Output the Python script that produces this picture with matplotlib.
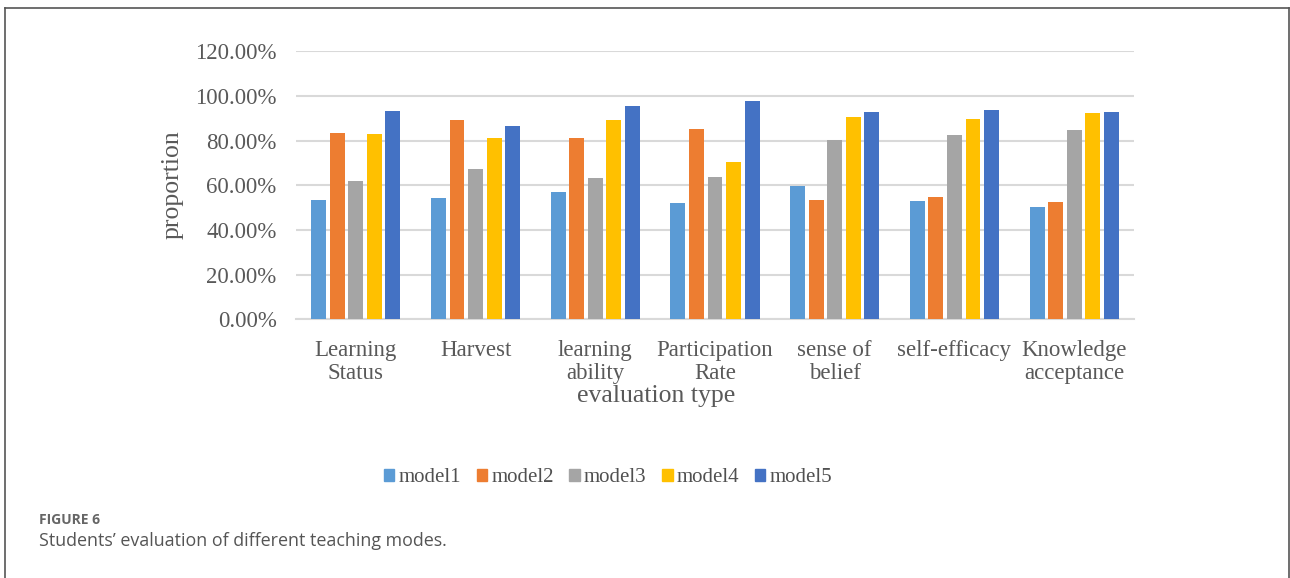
import numpy as np
import matplotlib
matplotlib.use('Agg')
import matplotlib.pyplot as plt
from matplotlib.patches import Patch
from matplotlib.lines import Line2D

categories = ['Learning\nStatus', 'Harvest', 'learning\nability', 'Participation\nRate',
              'sense of\nbelief', 'self-efficacy', 'Knowledge\nacceptance']
models = ['model1', 'model2', 'model3', 'model4', 'model5']
model1 = [53.5, 54.5, 56.9, 51.9, 59.7, 52.8, 50.4]
model2 = [83.6, 89.1, 81.2, 85.2, 53.4, 54.8, 52.4]
model3 = [62.1, 67.3, 63.3, 63.6, 80.3, 82.4, 84.6]
model4 = [83.0, 81.3, 89.1, 70.3, 90.4, 89.7, 92.5]
model5 = [93.4, 86.4, 95.5, 97.6, 92.7, 93.7, 92.8]
series = [model1, model2, model3, model4, model5]
colors = ['#5B9BD5', '#ED7D31', '#A5A5A5', '#FFC000', '#4472C4']

W, H = 1290, 578
fig = plt.figure(figsize=(W / 100, H / 100), dpi=100)
ax = fig.add_axes([296 / W, 1 - 319.3 / H, (1134 - 296) / W, (319.3 - 51.3) / H])

serif = 'Liberation Serif'
tc = '#595959'

x = np.arange(len(categories))
step = 0.155
for j, vals in enumerate(series):
    ax.bar(x + (j - 2) * step, np.array(vals) / 100, width=0.125, color=colors[j], zorder=3)

ax.set_xlim(-0.5, len(categories) - 0.5)
ax.set_ylim(0, 1.2)
ax.set_yticks(np.arange(0, 1.21, 0.2))
ax.set_yticklabels(['%.2f%%' % (v * 100) for v in np.arange(0, 1.21, 0.2)],
                   fontfamily=serif, fontsize=16.5, color=tc)
ax.set_xticks(x)
ax.set_xticklabels(categories, fontfamily=serif, fontsize=16.5, color=tc, linespacing=1.12)
ax.tick_params(axis='both', length=0)
ax.tick_params(axis='y', pad=14)
ax.tick_params(axis='x', pad=15)
ax.grid(axis='y', color='#d9d9d9', linewidth=1.5, zorder=0)
for s in ['top', 'right', 'left']:
    ax.spines[s].set_visible(False)
ax.spines['bottom'].set_color('#d9d9d9')
ax.spines['bottom'].set_linewidth(1.5)

fig.text(656 / W, 1 - 402 / H, 'evaluation type', ha='center', va='baseline',
         fontfamily=serif, fontsize=18.5, color=tc)
fig.text(173 / W, 1 - 185 / H, 'proportion', ha='center', va='center', rotation=90,
         fontfamily=serif, fontsize=18.5, color=tc)

handles = [Patch(color=c, label=m) for c, m in zip(colors, models)]
fig.legend(handles=handles, loc='center', bbox_to_anchor=(608 / W, 1 - 478 / H), ncol=5,
           frameon=False, prop={'family': serif, 'size': 15}, labelcolor='#505050',
           handlelength=0.5, handleheight=0.5, handletextpad=0.2, columnspacing=0.75)

# caption
fig.text(39 / W, 1 - 520 / H, 'FIGURE 6', ha='left', va='center', fontfamily='Open Sans',
         fontweight='bold', fontsize=10, color='#666666')
fig.text(39 / W, 1 - 545.7 / H, 'Students\u2019 evaluation of different teaching modes.',
         ha='left', va='baseline', fontfamily='Open Sans', fontsize=12.9, color='#555555')

# outer frame (no bottom edge)
fc = '#555555'
fig.add_artist(Line2D([4.5 / W, 4.5 / W], [0, 1 - 7.5 / H], color=fc, linewidth=1.2))
fig.add_artist(Line2D([4.5 / W, 1288.5 / W], [1 - 7.5 / H, 1 - 7.5 / H], color=fc, linewidth=1.2))
fig.add_artist(Line2D([1288.5 / W, 1288.5 / W], [0, 1 - 7.5 / H], color=fc, linewidth=1.2))

fig.savefig('out.png', dpi=100)
